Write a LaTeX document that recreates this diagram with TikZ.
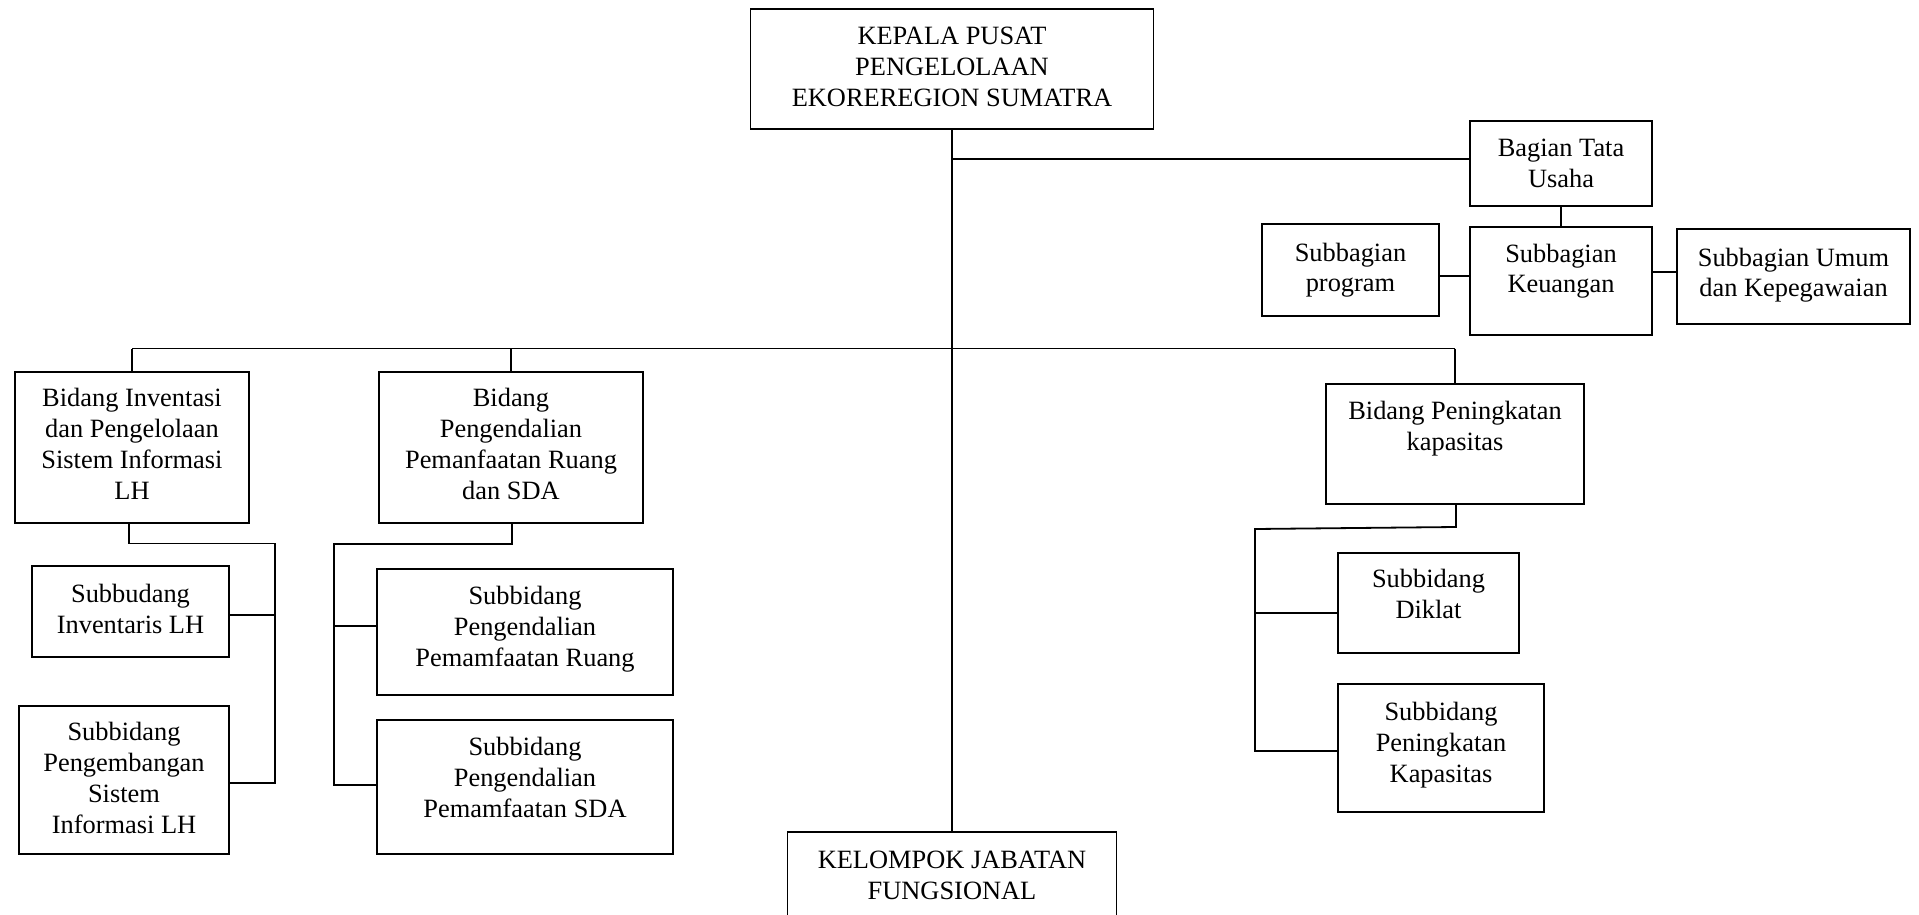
\documentclass[tikz,border=0pt]{standalone}
\usepackage{fontspec}
\setmainfont{Liberation Serif}
\usetikzlibrary{calc}
\begin{document}
\begin{tikzpicture}[x=1pt,y=-1pt,
  box/.style={draw, line width=1.8pt, inner sep=0pt, rectangle},
  txt/.style={anchor=north, inner sep=0pt, align=center, font=\fontsize{26.4}{30.8}\selectfont},
  conn/.style={line width=1.8pt}]
\fill[white] (0,0) rectangle (1919,915);
\useasboundingbox (0,0) rectangle (1919,915);
\clip (0,0) rectangle (1919,915);

% boxes
\node[box, minimum width=403pt, minimum height=120pt] (kepala) at (952,69) {};
\node[box, minimum width=182pt, minimum height=85pt] (bagian) at (1561,163.5) {};
\node[box, minimum width=182pt, minimum height=108pt] (keu) at (1561,281) {};
\node[box, minimum width=177pt, minimum height=92pt] (prog) at (1350.5,270) {};
\node[box, minimum width=233pt, minimum height=95pt] (umum) at (1793.5,276.5) {};
\node[box, minimum width=234pt, minimum height=151pt] (bid1) at (132,447.5) {};
\node[box, minimum width=264pt, minimum height=151pt] (bid2) at (511,447.5) {};
\node[box, minimum width=258pt, minimum height=120pt] (bid3) at (1455,444) {};
\node[box, minimum width=197pt, minimum height=91pt] (inv) at (130.5,611.5) {};
\node[box, minimum width=210pt, minimum height=148pt] (peng) at (124,780) {};
\node[box, minimum width=296pt, minimum height=126pt] (ruang) at (525,632) {};
\node[box, minimum width=296pt, minimum height=134pt] (sda) at (525,787) {};
\node[box, minimum width=181pt, minimum height=100pt] (diklat) at (1428.5,603) {};
\node[box, minimum width=206pt, minimum height=128pt] (kap) at (1441,748) {};
\node[box, minimum width=329pt, minimum height=110pt] (kel) at (952,887) {};

% texts
\node[txt] (tkepala) at ($(kepala.north)+(0,19)$) {KEPALA PUSAT\\PENGELOLAAN\\EKOREREGION SUMATRA};
\node[txt] (tbagian) at ($(bagian.north)+(0,19)$) {Bagian Tata\\Usaha};
\node[txt] (tkeu) at ($(keu.north)+(0,17.5)$) {Subbagian\\Keuangan};
\node[txt] (tprog) at ($(prog.north)+(0,19.5)$) {Subbagian\\program};
\node[txt] (tumum) at ($(umum.north)+(0,19.5)$) {Subbagian Umum\\dan Kepegawaian};
\node[txt] (tbid1) at ($(bid1.north)+(0,17)$) {Bidang Inventasi\\dan Pengelolaan\\Sistem Informasi\\LH};
\node[txt] (tbid2) at ($(bid2.north)+(0,17)$) {Bidang\\Pengendalian\\Pemanfaatan Ruang\\dan SDA};
\node[txt] (tbid3) at ($(bid3.north)+(0,18)$) {Bidang Peningkatan\\kapasitas};
\node[txt] (tinv) at ($(inv.north)+(0,19)$) {Subbudang\\Inventaris LH};
\node[txt] (tpeng) at ($(peng.north)+(0,17)$) {Subbidang\\Pengembangan\\Sistem\\Informasi LH};
\node[txt] (truang) at ($(ruang.north)+(0,18)$) {Subbidang\\Pengendalian\\Pemamfaatan Ruang};
\node[txt] (tsda) at ($(sda.north)+(0,18)$) {Subbidang\\Pengendalian\\Pemamfaatan SDA};
\node[txt] (tdiklat) at ($(diklat.north)+(0,17)$) {Subbidang\\Diklat};
\node[txt] (tkap) at ($(kap.north)+(0,19)$) {Subbidang\\Peningkatan\\Kapasitas};
\node[txt] (tkel) at ($(kel.north)+(0,20)$) {KELOMPOK JABATAN\\FUNGSIONAL};

% connectors: top
\draw[conn] (kepala.south) -- (kel.north);
\coordinate (jb) at (952,159);
\draw[conn] (jb) -- (jb -| bagian.west);
\draw[conn] (bagian.south) -- (keu.north);
\coordinate (jp) at (1439,276);
\draw[conn] (prog.east |- jp) -- (keu.west |- jp);
\coordinate (ju) at (1652,272);
\draw[conn] (keu.east |- ju) -- (umum.west |- ju);

% bus
\coordinate (busL) at (132,348.5);
\coordinate (busM) at (511,348.5);
\coordinate (busR) at (1455,348.5);
\draw[conn] (busL) -- (busR);
\draw[conn] (busL) -- (bid1.north);
\draw[conn] (busM) -- (bid2.north);
\draw[conn] (busR) -- (bid3.north);

% left group
\coordinate (l1) at (129,543.5);
\coordinate (l2) at (274.6,543.5);
\coordinate (l3) at (274.6,783);
\coordinate (l4) at (274.6,615);
\draw[conn] (bid1.south -| l1) -- (l1) -- (l2) -- (l3) -- (l3 -| peng.east);
\draw[conn] (l4) -- (l4 -| inv.east);

% middle group
\coordinate (m1) at (512,544);
\coordinate (m2) at (334,544);
\coordinate (m3) at (334,785);
\coordinate (m4) at (334,626);
\draw[conn] (bid2.south -| m1) -- (m1) -- (m2) -- (m3) -- (m3 -| sda.west);
\draw[conn] (m4) -- (m4 -| ruang.west);

% right group
\coordinate (r1) at (1456,527);
\coordinate (r2) at (1255,529);
\coordinate (r3) at (1255,751);
\coordinate (r4) at (1255,613);
\draw[conn] (bid3.south -| r1) -- (r1) -- (r2) -- (r3) -- (r3 -| kap.west);
\draw[conn] (r4) -- (r4 -| diklat.west);
\end{tikzpicture}
\end{document}
